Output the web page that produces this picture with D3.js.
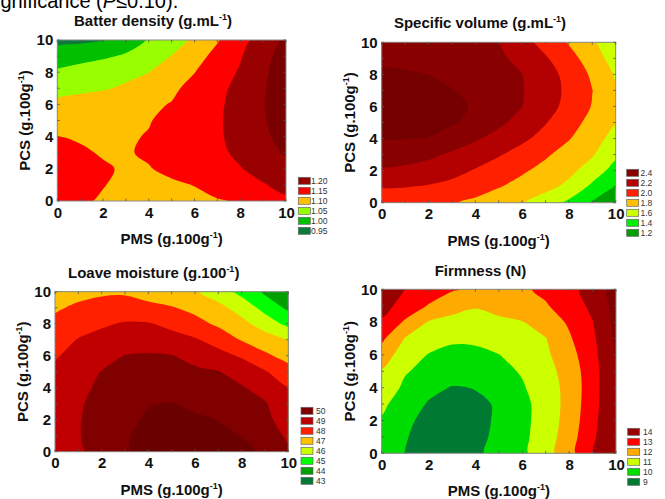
<!DOCTYPE html>
<html>
<head>
<meta charset="utf-8">
<script src="https://cdn.jsdelivr.net/npm/d3@7"></script>
<style>
  body { margin: 0; background: #fff; }
  text { font-family: Arial, "Liberation Sans", sans-serif; }
</style>
</head>
<body>
<div id="chart"></div>
<script>
// grid axes (PMS across, PCS up), g.100g-1
const pms = [0, 1, 2, 3, 4, 5, 6, 7, 8, 9, 10];
const pcs = [0, 1, 2, 3, 4, 5, 6, 7, 8, 9, 10];
const axisTicks = [0, 2, 4, 6, 8, 10];

// values, one row per PCS value (0 -> 10)
const batterDensity = [
  [1.128, 1.104, 1.097, 1.091, 1.087, 1.087, 1.091, 1.097, 1.1035, 1.124, 1.141],
  [1.125, 1.113, 1.101, 1.094, 1.091, 1.094, 1.101, 1.116, 1.132, 1.147, 1.163],
  [1.120, 1.112, 1.104, 1.096, 1.098, 1.109, 1.122, 1.135, 1.148, 1.166, 1.185],
  [1.112, 1.105, 1.097, 1.097, 1.105, 1.117, 1.130, 1.142, 1.158, 1.181, 1.205],
  [1.0995, 1.096, 1.094, 1.096, 1.102, 1.116, 1.130, 1.144, 1.165, 1.191, 1.217],
  [1.080, 1.085, 1.089, 1.094, 1.098, 1.111, 1.128, 1.144, 1.168, 1.196, 1.224],
  [1.060, 1.068, 1.076, 1.084, 1.093, 1.102, 1.122, 1.142, 1.168, 1.198, 1.228],
  [1.035, 1.041, 1.046, 1.056, 1.074, 1.092, 1.113, 1.137, 1.164, 1.196, 1.227],
  [1.007, 1.018, 1.028, 1.039, 1.049, 1.075, 1.099, 1.127, 1.155, 1.191, 1.227],
  [0.975, 0.984, 0.993, 1.005, 1.028, 1.051, 1.082, 1.114, 1.146, 1.184, 1.223],
  [0.935, 0.940, 0.948, 0.978, 1.003, 1.029, 1.058, 1.096, 1.134, 1.172, 1.210]
];
const densityLevels = [0.95, 1.00, 1.05, 1.10, 1.15, 1.20];
const densityColors = ["#0b7a3a", "#00c000", "#99ff00", "#ffc000", "#ff0000", "#990000", "#7a0000"];

const specificVolume = [
  [1.870, 1.864, 1.845, 1.814, 1.760, 1.692, 1.614, 1.497, 1.358, 1.182, 1.000],
  [2.015, 2.007, 1.983, 1.942, 1.885, 1.810, 1.735, 1.658, 1.550, 1.356, 1.200],
  [2.170, 2.158, 2.123, 2.065, 1.985, 1.906, 1.826, 1.740, 1.650, 1.513, 1.320],
  [2.290, 2.277, 2.240, 2.173, 2.095, 2.016, 1.923, 1.826, 1.723, 1.618, 1.440],
  [2.410, 2.405, 2.395, 2.300, 2.224, 2.134, 2.039, 1.930, 1.811, 1.683, 1.527],
  [2.480, 2.473, 2.454, 2.420, 2.347, 2.240, 2.127, 2.011, 1.875, 1.741, 1.610],
  [2.520, 2.512, 2.486, 2.444, 2.380, 2.291, 2.203, 2.076, 1.940, 1.790, 1.640],
  [2.500, 2.490, 2.460, 2.410, 2.346, 2.278, 2.210, 2.092, 1.957, 1.803, 1.620],
  [2.430, 2.420, 2.398, 2.346, 2.298, 2.250, 2.203, 2.080, 1.939, 1.769, 1.580],
  [2.360, 2.355, 2.340, 2.314, 2.279, 2.233, 2.150, 2.020, 1.871, 1.703, 1.510],
  [2.280, 2.277, 2.268, 2.252, 2.230, 2.202, 2.068, 1.927, 1.784, 1.629, 1.470]
];
const volumeLevels = [1.2, 1.4, 1.6, 1.8, 2.0, 2.2, 2.4];
const volumeColors = ["#00a000", "#00ee00", "#ccff00", "#ffc000", "#ff2000", "#b30000", "#880000", "#740000"];

const loafMoisture = [
  [48.75, 48.86, 49.35, 49.96, 50.12, 50.25, 50.30, 50.27, 50.10, 49.93, 49.15],
  [48.78, 48.95, 49.38, 49.95, 50.15, 50.30, 50.30, 50.10, 49.99, 49.46, 48.86],
  [48.75, 48.94, 49.36, 49.81, 50.10, 50.18, 50.10, 49.99, 49.61, 49.23, 48.58],
  [48.65, 48.90, 49.30, 49.70, 49.97, 50.03, 49.88, 49.64, 49.38, 49.08, 48.30],
  [48.45, 48.83, 49.13, 49.36, 49.59, 49.62, 49.44, 49.26, 49.08, 48.64, 48.02],
  [48.20, 48.61, 49.03, 49.25, 49.38, 49.30, 49.17, 49.04, 48.59, 48.08, 47.36],
  [47.91, 48.32, 48.68, 49.03, 49.10, 49.04, 48.70, 48.32, 47.89, 47.17, 46.67],
  [47.57, 48.05, 48.27, 48.49, 48.50, 48.30, 48.10, 47.62, 46.93, 46.46, 45.97],
  [47.22, 47.55, 47.88, 48.08, 48.06, 47.79, 47.32, 46.83, 46.28, 45.57, 44.72],
  [46.88, 47.15, 47.36, 47.42, 47.25, 47.07, 46.73, 46.28, 45.61, 44.66, 43.80],
  [46.50, 46.72, 46.85, 46.87, 46.61, 46.35, 46.09, 45.50, 44.69, 43.82, 43.20]
];
const moistureLevels = [43, 44, 45, 46, 47, 48, 49, 50];
const moistureColors = ["#007a33", "#00a000", "#00ff00", "#ccff00", "#ffc000", "#ff2000", "#c00000", "#800000", "#6a0000"];

const firmness = [
  [9.40, 8.99, 8.83, 8.73, 8.89, 9.19, 9.80, 10.59, 11.65, 12.96, 13.90],
  [9.65, 9.03, 8.82, 8.60, 8.83, 9.14, 9.77, 10.51, 11.53, 12.84, 13.92],
  [9.89, 9.10, 8.86, 8.65, 8.84, 9.08, 9.73, 10.45, 11.39, 12.73, 13.94],
  [10.20, 9.50, 8.92, 8.78, 8.90, 9.05, 9.74, 10.42, 11.34, 12.63, 13.96],
  [10.55, 9.83, 9.25, 8.95, 9.02, 9.49, 9.91, 10.51, 11.32, 12.59, 13.98],
  [10.90, 10.07, 9.74, 9.46, 9.46, 9.75, 10.08, 10.63, 11.42, 12.59, 14.00],
  [11.50, 10.51, 9.95, 9.73, 9.72, 9.98, 10.39, 10.82, 11.63, 12.68, 14.10],
  [12.19, 10.96, 10.56, 10.16, 10.22, 10.47, 10.72, 10.97, 11.88, 12.81, 14.20],
  [12.85, 11.87, 10.94, 10.67, 10.62, 10.79, 10.96, 11.48, 12.13, 12.97, 14.30],
  [13.39, 12.60, 11.94, 11.44, 11.09, 11.36, 11.64, 11.92, 12.47, 13.22, 14.35],
  [13.90, 13.00, 12.55, 12.09, 11.81, 11.60, 11.86, 12.20, 12.70, 13.40, 14.40]
];
const firmnessLevels = [9, 10, 11, 12, 13, 14];
const firmnessColors = ["#007a33", "#00dd00", "#ccff00", "#ffaa00", "#ff0000", "#990000", "#800000"];

const panels = [
  { title: "Batter density (g.mL", sup: "-1", grid: batterDensity, levels: densityLevels, colors: densityColors, fmt: ".2f",
    left: 57.3, right: 286, top: 40, bottom: 201, titleX: 153, titleY: 26, legX: 298.3, legY: 177.3, labX: 311 },
  { title: "Specific volume (g.mL", sup: "-1", grid: specificVolume, levels: volumeLevels, colors: volumeColors, fmt: ".1f",
    left: 381.7, right: 615.7, top: 42.3, bottom: 202.7, titleX: 480, titleY: 28, legX: 626.7, legY: 169.3, labX: 640.5 },
  { title: "Loave moisture (g.100", sup: "-1", grid: loafMoisture, levels: moistureLevels, colors: moistureColors, fmt: "d",
    left: 55, right: 288.3, top: 291.7, bottom: 451.7, titleX: 153.7, titleY: 277.5, legX: 301, legY: 407.3, labX: 316 },
  { title: "Firmness (N)", sup: null, grid: firmness, levels: firmnessLevels, colors: firmnessColors, fmt: "d",
    left: 381.7, right: 616, top: 289.3, bottom: 453.3, titleX: 480.5, titleY: 275.5, legX: 627.7, legY: 428.3, labX: 643 }
];

const svg = d3.select("#chart")
    .append("svg")
    .attr("width", 665)
    .attr("height", 499);

// cut-off caption line above the figure
svg.append("text")
    .attr("x", -14)
    .attr("y", 8)
    .style("font-size", "20px")
    .call(t => {
        t.append("tspan").text("significance (");
        t.append("tspan").style("font-style", "italic").text("P");
        t.append("tspan").text("\u22640.10).");
    });

// closed smooth rings through the marching-squares vertices
const ringLine = d3.line().curve(d3.curveCatmullRomClosed.alpha(0.5));

// superscript helper for "(g.100g-1)" style labels
function withSup(t, main, sup, close) {
    t.append("tspan").text(main);
    if (sup) {
        t.append("tspan").attr("dy", -6).style("font-size", "9px").text(sup);
        t.append("tspan").attr("dy", 6).text(close);
    }
}

panels.forEach((p, k) => {
    const x = d3.scaleLinear().domain([0, 10]).range([p.left, p.right]);
    const y = d3.scaleLinear().domain([0, 10]).range([p.bottom, p.top]);
    const g = svg.append("g");

    const clipId = "clip" + k;
    g.append("clipPath").attr("id", clipId)
        .append("rect")
        .attr("x", p.left).attr("y", p.top)
        .attr("width", p.right - p.left).attr("height", p.bottom - p.top);

    const plot = g.append("g").attr("clip-path", "url(#" + clipId + ")");
    plot.append("rect")
        .attr("x", p.left).attr("y", p.top)
        .attr("width", p.right - p.left).attr("height", p.bottom - p.top)
        .attr("fill", p.colors[0]);

    // grid sample i sits at contour coordinate i + 0.5
    const contours = d3.contours()
        .size([pms.length, pcs.length])
        .thresholds(p.levels)(p.grid.flat());

    plot.selectAll("path")
        .data(contours)
        .enter()
        .append("path")
        .attr("fill", (d, i) => p.colors[i + 1])
        .attr("d", d => d.coordinates.map(poly => poly.map(ring =>
            ringLine(ring.slice(0, -1).map(pt => [x(pms[0] + pt[0] - 0.5), y(pcs[0] + pt[1] - 0.5)]))
        ).join("")).join(""));

    // frame and small inner ticks
    g.append("rect")
        .attr("x", p.left).attr("y", p.top)
        .attr("width", p.right - p.left).attr("height", p.bottom - p.top)
        .attr("fill", "none")
        .attr("stroke", "#8a8a8a")
        .attr("stroke-width", 1);

    const tk = g.append("g").attr("stroke", "#555").attr("stroke-width", 0.8);
    pms.forEach(v => {
        tk.append("line").attr("x1", x(v)).attr("x2", x(v)).attr("y1", p.bottom).attr("y2", p.bottom - 2.5);
        tk.append("line").attr("x1", x(v)).attr("x2", x(v)).attr("y1", p.top).attr("y2", p.top + 2.5);
    });
    pcs.forEach(v => {
        tk.append("line").attr("y1", y(v)).attr("y2", y(v)).attr("x1", p.left).attr("x2", p.left + 2.5);
        tk.append("line").attr("y1", y(v)).attr("y2", y(v)).attr("x1", p.right).attr("x2", p.right - 2.5);
    });

    // axes
    const xAxis = g.append("g")
        .attr("transform", "translate(0," + p.bottom + ")")
        .call(d3.axisBottom(x).tickValues(axisTicks).tickSize(0).tickPadding(6).tickFormat(d3.format("d")));
    const yAxis = g.append("g")
        .attr("transform", "translate(" + p.left + ",0)")
        .call(d3.axisLeft(y).tickValues(axisTicks).tickSize(0).tickPadding(4).tickFormat(d3.format("d")));
    [xAxis, yAxis].forEach(a => {
        a.select(".domain").remove();
        a.selectAll("text")
            .attr("fill", "#111")
            .style("font-size", "15px")
            .style("font-weight", "bold")
            .style("font-family", "Arial, 'Liberation Sans', sans-serif");
    });

    // axis titles
    g.append("text")
        .attr("x", (p.left + p.right) / 2)
        .attr("y", p.bottom + 43)
        .attr("text-anchor", "middle")
        .style("font-size", "15px")
        .style("font-weight", "bold")
        .attr("fill", "#111")
        .call(t => withSup(t, "PMS (g.100g", "-1", ")"));

    g.append("text")
        .attr("transform", "translate(" + (p.left - 27) + "," + ((p.top + p.bottom) / 2) + ") rotate(-90)")
        .attr("text-anchor", "middle")
        .style("font-size", "15px")
        .style("font-weight", "bold")
        .attr("fill", "#111")
        .call(t => withSup(t, "PCS (g.100g", "-1", ")"));

    // panel title
    g.append("text")
        .attr("x", p.titleX)
        .attr("y", p.titleY)
        .attr("text-anchor", "middle")
        .style("font-size", "15px")
        .style("font-weight", "bold")
        .attr("fill", "#111")
        .call(t => withSup(t, p.title, p.sup, ")"));

    // legend, highest level on top
    const fmt = d3.format(p.fmt);
    const legend = g.selectAll(".legend" + k)
        .data(p.levels.slice().reverse())
        .enter().append("g")
        .attr("transform", (d, i) => "translate(0," + i * 10 + ")");

    legend.append("rect")
        .attr("x", p.legX)
        .attr("y", p.legY)
        .attr("width", 12)
        .attr("height", 7)
        .attr("fill", d => p.colors[p.levels.indexOf(d)])
        .attr("stroke", "#666")
        .attr("stroke-width", 0.7);

    legend.append("text")
        .attr("x", p.labX)
        .attr("y", p.legY + 7)
        .style("font-size", "8.5px")
        .attr("fill", "#333")
        .text(d => fmt(d));
});
</script>
</body>
</html>
